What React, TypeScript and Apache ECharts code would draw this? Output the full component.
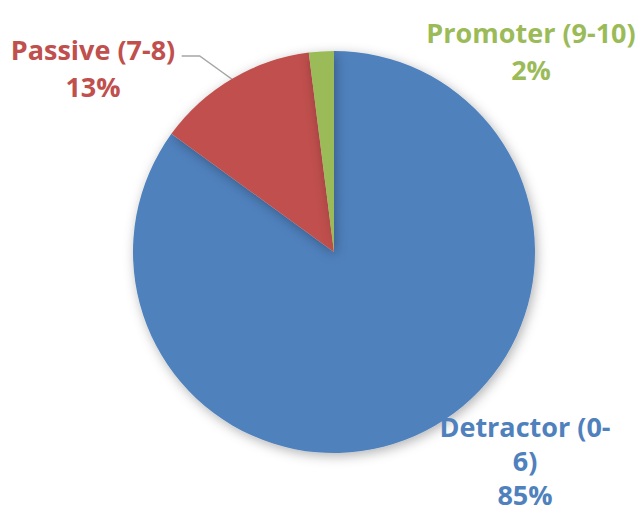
import React, { useEffect, useRef } from "react";
import * as echarts from "echarts";

const categories = ["Detractor (0-6)", "Passive (7-8)", "Promoter (9-10)"];
const labelTexts = ["Detractor (0-\n6)", "Passive (7-8)", "Promoter (9-10)"];
const values = [85, 13, 2];
const colors = ["#4F81BD", "#C0504D", "#9BBB59"];
const labelCenters: [number, number][] = [[525, 460], [93, 68], [531, 51]];

export default function App() {
  const ref = useRef<HTMLDivElement>(null);
  useEffect(() => {
    document.body.style.margin = "0";
    const chart = echarts.init(ref.current!, null, { renderer: "svg" });
    chart.setOption({
      animation: false,
      backgroundColor: "#ffffff",
      series: [
        {
          type: "pie",
          center: [334, 252],
          radius: 201,
          startAngle: 90,
          clockwise: true,
          data: categories.map((name, i) => ({
            name,
            value: values[i],
            itemStyle: { color: colors[i] },
            label: {
              formatter: labelTexts[i] + "\n{d}%",
              color: colors[i],
              lineHeight: i === 0 ? 34 : 36.5,
            },
            labelLine: { show: i === 1 },
          })),
          itemStyle: {
            shadowBlur: 12,
            shadowColor: "rgba(0,0,0,0.3)",
            shadowOffsetX: 2,
            shadowOffsetY: 3,
          },
          label: {
            show: true,
            position: "outside",
            fontFamily: "Open Sans",
            fontWeight: "bold",
            fontSize: 27,
            lineHeight: 36.5,
            align: "center",
            overflow: "none",
            width: 300,
          },
          labelLine: {
            show: true,
            length: 20,
            length2: 20,
            lineStyle: { color: "#A6A6A6", width: 1.5 },
          },
          labelLayout: (params: any) => {
            const i = params.dataIndex;
            const [cx, cy] = labelCenters[i];
            const res: any = { x: cx, y: cy, align: "center", verticalAlign: "middle" };
            if (i === 1 && params.labelLinePoints) {
              const p0 = params.labelLinePoints[0];
              res.labelLinePoints = [p0, [p0[0] - 32, p0[1] - 23], [p0[0] - 50, p0[1] - 23]];
            }
            return res;
          },
        },
      ],
    });
    return () => chart.dispose();
  }, []);
  return <div ref={ref} style={{ width: 639, height: 512 }} />;
}
